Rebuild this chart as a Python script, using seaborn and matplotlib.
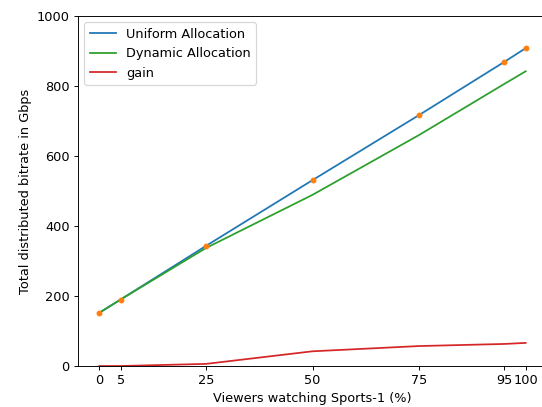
import matplotlib
matplotlib.use("Agg")
import matplotlib.pyplot as plt
import seaborn as sns
import pandas as pd

viewers = [0, 5, 25, 50, 75, 95, 100]
uniform = [152, 190, 343, 531, 717, 869, 908]
dynamic = [152, 190, 337, 489, 660, 806, 842]
gain = [0, 0, 6, 42, 57, 63, 66]

df = pd.DataFrame({"x": viewers, "uniform": uniform, "dynamic": dynamic, "gain": gain})

plt.rcParams["font.size"] = 11

W, H = 542, 407
dpi = W / 6.4
fig = plt.figure(figsize=(W / dpi, H / dpi), dpi=dpi)
ax = fig.add_axes([78 / W, 1 - 366 / H, (547 - 78) / W, (366 - 16) / H])

sns.lineplot(data=df, x="x", y="uniform", ax=ax, color="tab:blue", label="Uniform Allocation")
ax.plot(df["x"], df["uniform"], "o", color="tab:orange", markersize=4, zorder=2.5)
sns.lineplot(data=df, x="x", y="dynamic", ax=ax, color="tab:green", label="Dynamic Allocation")
sns.lineplot(data=df, x="x", y="gain", ax=ax, color="tab:red", label="gain")

ax.set_xlim(-5, 105)
ax.set_ylim(0, 1000)
ax.set_xticks(viewers)
ax.set_xticklabels([str(v) for v in viewers])
ax.set_xlabel("Viewers watching Sports-1 (%)")
ax.set_ylabel("Total distributed bitrate in Gbps")
ax.legend(loc="upper left", fontsize=11)

fig.savefig("out.png", dpi=dpi)
